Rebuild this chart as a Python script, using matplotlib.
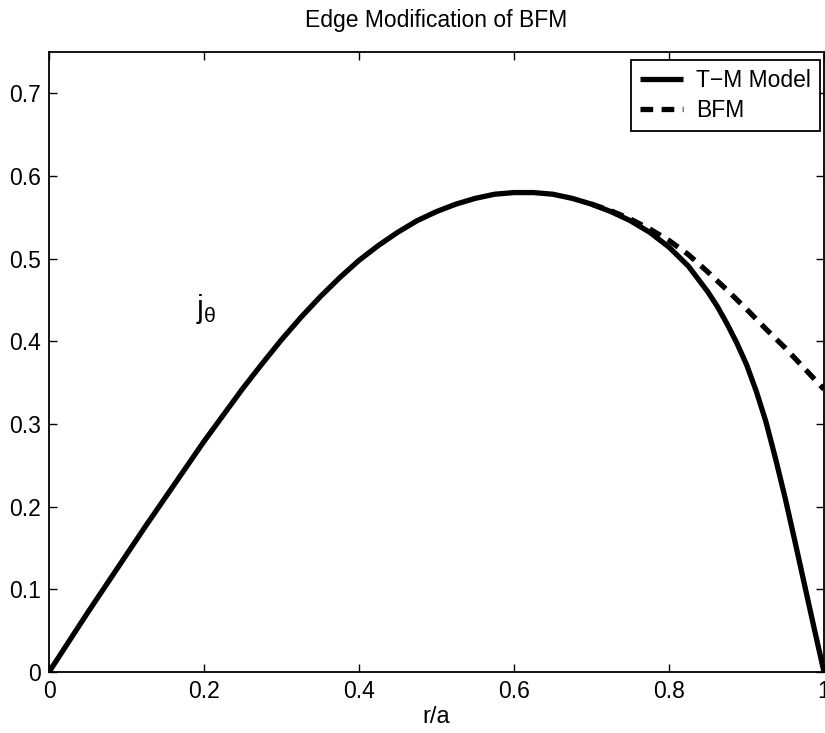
import numpy as np
import matplotlib
matplotlib.use('Agg')
import matplotlib.pyplot as plt

plt.rcParams['font.family'] = ['Liberation Sans', 'DejaVu Sans']
plt.rcParams['mathtext.fontset'] = 'custom'
plt.rcParams['mathtext.rm'] = 'Liberation Sans'
plt.rcParams['mathtext.it'] = 'Liberation Sans'

# values
r_tm = [0.0, 0.025, 0.05, 0.075, 0.1, 0.125, 0.15, 0.175, 0.2, 0.225, 0.25,
        0.275, 0.3, 0.325, 0.35, 0.375, 0.4, 0.425, 0.45, 0.475, 0.5, 0.525,
        0.55, 0.575, 0.6, 0.625, 0.65, 0.675, 0.7, 0.725, 0.75, 0.775, 0.8,
        0.825, 0.85, 0.8625, 0.875, 0.8875, 0.9, 0.9125, 0.925, 0.9375, 0.95,
        0.9625, 0.975, 0.9875, 1.0]
j_tm = [0.0, 0.036, 0.072, 0.107, 0.142, 0.177, 0.211, 0.245, 0.279, 0.311,
        0.343, 0.373, 0.402, 0.429, 0.454, 0.477, 0.498, 0.516, 0.532, 0.546,
        0.557, 0.566, 0.573, 0.578, 0.580, 0.580, 0.578, 0.573, 0.566, 0.557,
        0.546, 0.532, 0.514, 0.491, 0.460, 0.442, 0.421, 0.398, 0.372, 0.340,
        0.303, 0.258, 0.210, 0.158, 0.105, 0.052, 0.0]

r_bfm = [0.7, 0.725, 0.75, 0.775, 0.8, 0.825, 0.85, 0.875, 0.9, 0.925, 0.95,
         0.975, 1.0]
j_bfm = [0.566, 0.558, 0.548, 0.536, 0.522, 0.505, 0.484, 0.462, 0.439,
         0.415, 0.392, 0.367, 0.342]

xticks = [0, 0.2, 0.4, 0.6, 0.8, 1]
xticklabels = ['0', '0.2', '0.4', '0.6', '0.8', '1']
yticks = [0, 0.1, 0.2, 0.3, 0.4, 0.5, 0.6, 0.7]
yticklabels = ['0', '0.1', '0.2', '0.3', '0.4', '0.5', '0.6', '0.7']

fig = plt.figure(figsize=(8.25, 7.33), dpi=100)
ax = fig.add_axes([0.0594, 0.0832, 0.9394, 0.8458])

ax.plot(r_tm, j_tm, color='black', lw=3.8, solid_capstyle='butt',
        solid_joinstyle='round', label='T\u2212M Model', zorder=3)
ax.plot(r_bfm, j_bfm, color='black', lw=3.8, dashes=(2.4, 1.6), label='BFM', zorder=2)

ax.set_xlim(0, 1)
ax.set_ylim(0, 0.75)
ax.set_xticks(xticks)
ax.set_xticklabels(xticklabels)
ax.set_yticks(yticks)
ax.set_yticklabels(yticklabels)
ax.tick_params(direction='in', length=6, width=1, top=True, right=True,
               labelsize=16.5, pad=6)
for s in ax.spines.values():
    s.set_linewidth(1.3)

ax.set_title('Edge Modification of BFM', fontsize=16.5, pad=18)
ax.set_xlabel('r/a', fontsize=17, labelpad=2)

ax.text(0.19, 0.43, r'$\mathregular{j_\theta}$', fontsize=22)

leg = ax.legend(loc='upper right', bbox_to_anchor=(0.995, 0.987),
                borderaxespad=0, fontsize=16.5, frameon=True, fancybox=False,
                edgecolor='black', framealpha=1,
                handlelength=1.9, handletextpad=0.55, borderpad=0.4,
                labelspacing=0.3)
leg.get_frame().set_linewidth(1.3)

fig.savefig('out.png', dpi=100)
